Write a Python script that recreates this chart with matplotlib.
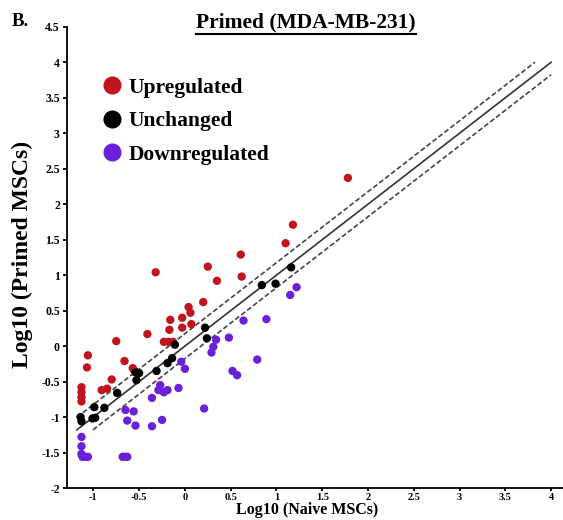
import matplotlib
matplotlib.use("Agg")
import matplotlib.pyplot as plt
from matplotlib.lines import Line2D

plt.rcParams['font.family'] = ['Liberation Serif', 'DejaVu Serif']
plt.rcParams['font.weight'] = 'bold'

# log10 values
up_x = [-1.06, -1.07, -1.13, -1.13, -1.13, -1.13, -0.91, -0.85, -0.80, -0.75,
        -0.66, -0.57, -0.55, -0.41, -0.32, -0.23, -0.18, -0.13, -0.16, -0.17,
        -0.03, -0.03, 0.04, 0.06, 0.07, 0.20, 0.25, 0.35, 0.61, 0.62,
        1.10, 1.18, 1.78]
up_y = [-0.13, -0.30, -0.58, -0.65, -0.72, -0.78, -0.62, -0.60, -0.47, 0.07,
        -0.21, -0.31, -0.35, 0.17, 1.04, 0.06, 0.06, 0.06, 0.37, 0.23,
        0.40, 0.26, 0.55, 0.47, 0.31, 0.62, 1.12, 0.92, 1.29, 0.98,
        1.45, 1.71, 2.37]

unch_x = [-1.14, -1.13, -0.99, -1.01, -0.98, -0.88, -0.74, -0.54, -0.50, -0.53,
          -0.31, -0.19, -0.14, -0.11, 0.22, 0.24, 0.84, 0.99, 1.16]
unch_y = [-1.00, -1.06, -0.86, -1.02, -1.01, -0.87, -0.66, -0.37, -0.38, -0.48,
          -0.35, -0.24, -0.17, 0.02, 0.26, 0.11, 0.86, 0.88, 1.11]

down_x = [-1.13, -1.13, -1.13, -1.12, -1.09, -1.06, -0.68, -0.65, -0.63, -0.65,
          -0.63, -0.56, -0.54, -0.36, -0.36, -0.29, -0.27, -0.25, -0.23, -0.19,
          -0.07, -0.04, 0.00, 0.21, 0.29, 0.31, 0.34, 0.48, 0.52, 0.57,
          0.64, 0.79, 0.89, 1.15, 1.22]
down_y = [-1.28, -1.41, -1.52, -1.56, -1.56, -1.56, -1.56, -1.56, -1.56, -0.90,
          -1.05, -0.92, -1.12, -1.13, -0.73, -0.62, -0.55, -1.04, -0.65, -0.62,
          -0.59, -0.22, -0.32, -0.88, -0.09, -0.01, 0.09, 0.12, -0.35, -0.41,
          0.36, -0.19, 0.38, 0.72, 0.83]

fc_cut = 0.176  # log10(1.5)
line_lo, line_hi = -1.18, 4.0

x_ticks = [-1, -0.5, 0, 0.5, 1, 1.5, 2, 2.5, 3, 3.5, 4]
y_ticks = [-2, -1.5, -1, -0.5, 0, 0.5, 1, 1.5, 2, 2.5, 3, 3.5, 4, 4.5]

RED = '#c0141f'
PURPLE = '#6a1fd8'

fig = plt.figure(figsize=(5.63, 5.2), dpi=100)
ax = fig.add_axes([0.1187, 0.0615, 0.8813, 0.887])

ax.plot([line_lo, line_hi], [line_lo, line_hi], color='#333333', lw=1.2)
ax.plot([line_lo, line_hi - fc_cut], [line_lo + fc_cut, line_hi],
        color='#444444', lw=1.2, ls=(0, (3, 1.5)))
ax.plot([line_lo + fc_cut, line_hi], [line_lo, line_hi - fc_cut],
        color='#444444', lw=1.2, ls=(0, (3, 1.5)))

ax.scatter(up_x, up_y, s=36, color=RED, edgecolors='none', zorder=3)
ax.scatter(unch_x, unch_y, s=36, color='black', edgecolors='none', zorder=3)
ax.scatter(down_x, down_y, s=36, color=PURPLE, edgecolors='none', zorder=3)

ax.set_xlim(-1.29, 4.13)
ax.set_ylim(-2, 4.5)
ax.set_xticks(x_ticks)
ax.set_yticks(y_ticks)
ax.set_xticklabels([f'{t:g}' for t in x_ticks])
ax.set_yticklabels([f'{t:g}' for t in y_ticks])
for s in ['top', 'right']:
    ax.spines[s].set_visible(False)
for s in ['left', 'bottom']:
    ax.spines[s].set_linewidth(1.3)
ax.tick_params(axis='both', direction='out', length=3, width=1.3,
               labelsize=8.5, pad=2)
ax.tick_params(axis='x', labelsize=7.5, pad=1, length=2.5)

handles = [Line2D([], [], ls='none', marker='o', ms=12, color=c, label=l)
           for c, l in [(RED, 'Upregulated'), ('black', 'Unchanged'),
                        (PURPLE, 'Downregulated')]]
ax.legend(handles=handles, loc='upper left', bbox_to_anchor=(0.057, 0.908),
          frameon=False, fontsize=15.5, handlelength=0.8, handletextpad=0.35,
          labelspacing=0.62, borderaxespad=0)

title = fig.text(0.544, 0.956, 'Primed (MDA-MB-231)', ha='center', va='center',
                 fontsize=15.5)
fig.text(0.036, 0.958, 'B.', ha='center', va='center', fontsize=13.5)
fig.text(0.040, 0.51, 'Log10 (Primed MSCs)', ha='center', va='center',
         rotation=90, fontsize=17)
fig.text(0.545, 0.004, 'Log10 (Naive MSCs)', ha='center', va='bottom',
         fontsize=11.5)

# underline the title
fig.canvas.draw()
bb = title.get_window_extent().transformed(fig.transFigure.inverted())
fig.add_artist(Line2D([bb.x0, bb.x1], [bb.y0 - 0.002, bb.y0 - 0.002],
                      transform=fig.transFigure, color='black', lw=1.5))

fig.savefig('out.png', dpi=100)
